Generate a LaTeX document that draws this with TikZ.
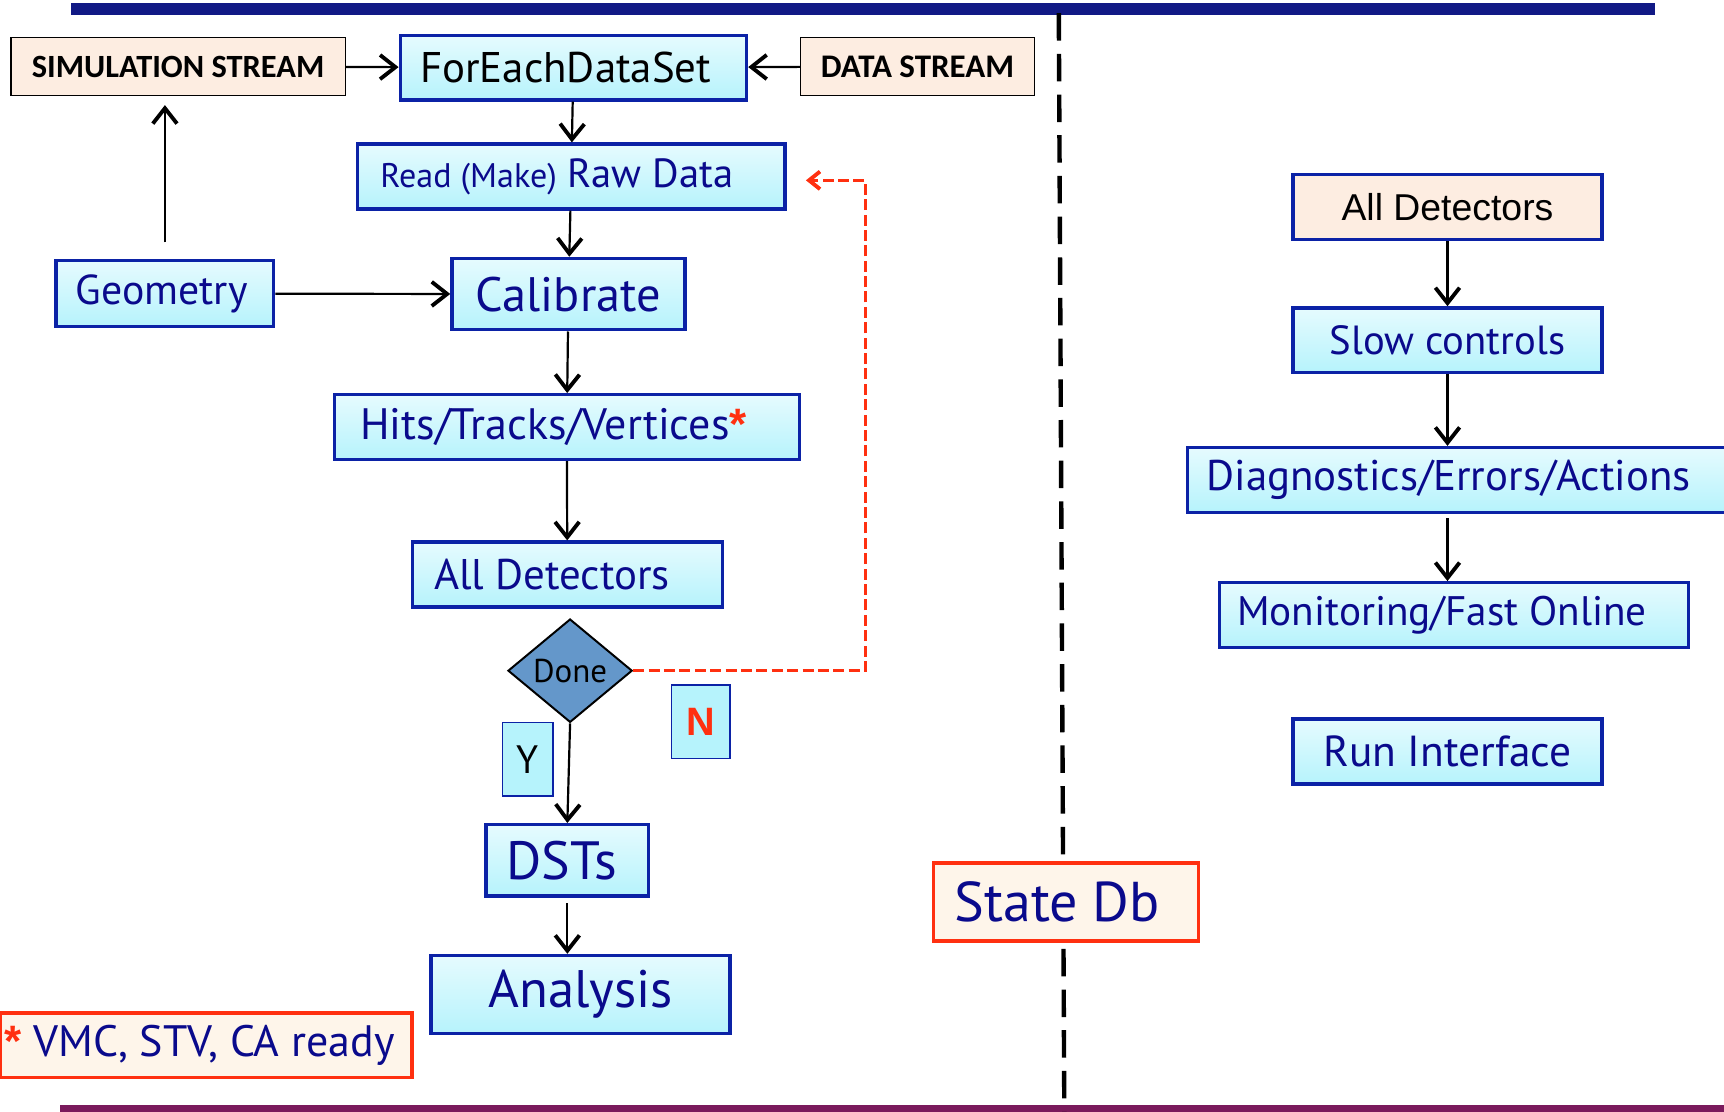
\documentclass[tikz,border=0pt]{standalone}
\usepackage{fontspec}
\setmainfont{PT Sans}
\newfontfamily\arialf{Liberation Sans}
\newfontfamily\calf{Carlito}
\usetikzlibrary{arrows.meta,shapes.geometric}
\definecolor{navyt}{HTML}{0A0A8C}
\definecolor{bordb}{HTML}{0B22A6}
\definecolor{cyanf}{HTML}{B6F3FC}
\definecolor{peach}{HTML}{FDEDE1}
\definecolor{cream}{HTML}{FEF5EA}
\definecolor{redb}{HTML}{FF3010}
\definecolor{diam}{HTML}{6497CA}
\definecolor{topbar}{HTML}{111985}
\definecolor{botbar}{HTML}{7A1A5C}
\newcommand\sh[2]{\hspace*{#1}#2\hspace*{-#1}}
\newcommand\redstar{\textcolor{redb}{\arialf\bfseries *}}
\tikzset{
  cbox/.style={draw=bordb, line width=3pt, top color=cyanf!35!white, middle color=cyanf, bottom color=cyanf, text=navyt, inner sep=0pt},
  pbox/.style={draw=black, line width=1.2pt, fill=peach, text=black, inner sep=0pt, font=\calf\bfseries\fontsize{29.5}{33}\selectfont},
  rbox/.style={draw=redb, line width=3.5pt, fill=cream, text=navyt, inner sep=0pt},
  lbox/.style={draw=bordb, line width=1.2pt, fill=cyanf, inner sep=0pt},
  arr/.style={draw=black, line width=2pt, -{Straight Barb[length=14pt,width=22pt,line width=3.5pt]}},
  rarr/.style={draw=redb, line width=3pt, dash pattern=on 10pt off 4pt, -{Straight Barb[length=10pt,width=16pt,line width=3.5pt]}},
  divider/.style={draw=black, line width=4pt, dash pattern=on 25pt off 12pt},
}
\begin{document}
\begin{tikzpicture}[x=1pt,y=-1pt]
\useasboundingbox (0,0) rectangle (1568,1011);
\clip (0,0) rectangle (1568,1011);
% bars
\fill[topbar] (65,3) rectangle (1505,14);
\fill[botbar] (55,1005) rectangle (1568,1012);
% divider
\coordinate (vt) at (963,12);
\coordinate (vb) at (968,1011);
\draw[divider] (vt) -- (vb);
% left column
\node[pbox, minimum width=304pt, minimum height=53pt] (sim) at (162,60.5) {SIMULATION STREAM};
\node[pbox, minimum width=213pt, minimum height=53pt, font=\calf\bfseries\fontsize{30}{34}\selectfont] (data) at (834.5,60.5) {DATA STREAM};
\node[cbox, text=black, minimum width=315pt, minimum height=59pt, font=\fontsize{39}{43}\selectfont] (fe) at (521.5,61.5) {\sh{-7pt}{ForEachDataSet}};
\node[cbox, minimum width=389pt, minimum height=59pt] (read) at (519.5,160.5) {\sh{-13pt}{{\fontsize{31}{35}\selectfont Read (Make)}\hspace{10pt}{\fontsize{37}{41}\selectfont Raw Data}}};
\node[cbox, minimum width=198pt, minimum height=60pt, font=\fontsize{38}{42}\selectfont] (geo) at (150,267) {\sh{-3pt}{Geometry}};
\node[cbox, minimum width=212pt, minimum height=65pt, font=\fontsize{44}{48}\selectfont] (cal) at (517,267.5) {Calibrate};
\node[cbox, minimum width=423pt, minimum height=59pt, font=\fontsize{40}{44}\selectfont] (hits) at (515.5,388.5) {\sh{-12pt}{Hits/Tracks/Vertices\redstar}};
\node[cbox, minimum width=282pt, minimum height=59pt, font=\fontsize{39}{43}\selectfont] (adl) at (516,522.5) {\sh{-14pt}{All Detectors}};
\node[diamond, draw=black, line width=1.8pt, fill=diam, minimum width=113pt, minimum height=94pt, inner sep=0pt, font=\fontsize{30}{34}\selectfont] (done) at (518.5,610) {Done};
\node[lbox, minimum width=46pt, minimum height=67pt, font=\fontsize{36}{40}\selectfont] (ybox) at (480,690.5) {Y};
\node[lbox, minimum width=53pt, minimum height=67pt, text=redb, font=\arialf\bfseries\fontsize{36}{40}\selectfont] (nbox) at (637.5,656.5) {N};
\node[cbox, minimum width=148pt, minimum height=65pt, font=\fontsize{49}{53}\selectfont] (dst) at (516,782.5) {\sh{-5pt}{DSTs}};
\node[cbox, minimum width=272pt, minimum height=71pt, font=\fontsize{48}{52}\selectfont] (ana) at (528,904.5) {Analysis};
\node[rbox, minimum width=375pt, minimum height=59pt, font=\fontsize{40}{44}\selectfont] (vmc) at (187.5,950.5) {\sh{-6pt}{\redstar\ VMC, STV, CA ready}};
\node[rbox, minimum width=241pt, minimum height=71pt, font=\fontsize{51}{55}\selectfont] (state) at (969.5,820.5) {\sh{-8pt}{State Db}};
% right column
\node[cbox, top color=peach, middle color=peach, bottom color=peach, text=black, minimum width=281pt, minimum height=59pt, font=\arialf\fontsize{34}{38}\selectfont] (adr) at (1316.5,188.5) {All Detectors};
\node[cbox, minimum width=281pt, minimum height=59pt, font=\fontsize{37}{41}\selectfont] (slow) at (1316.5,309.5) {Slow controls};
\node[cbox, minimum width=500pt, minimum height=59pt, font=\fontsize{39}{43}\selectfont] (diag) at (1330,436.5) {\sh{-12.5pt}{Diagnostics/Errors/Actions}};
\node[cbox, minimum width=427pt, minimum height=59pt, font=\fontsize{37.5}{41}\selectfont] (mon) at (1322.5,559.5) {\sh{-11pt}{Monitoring/Fast Online}};
\node[cbox, minimum width=281pt, minimum height=59pt, font=\fontsize{39.5}{43}\selectfont] (run) at (1316.5,683.5) {Run Interface};
% connectors
\draw[arr] (sim) -- (fe);
\draw[arr] (data) -- (fe);
\draw[arr] (fe) -- (read);
\draw[arr] (read) -- (cal);
\draw[arr] (geo) -- (cal);
\draw[arr, shorten >=8pt] ([yshift=15pt]geo.north) -- (geo.north |- sim.south);
\draw[arr] (cal) -- (hits);
\draw[arr] (hits) -- (adl);
\draw[arr] (done.south) -- (dst.north);
\draw[arr, shorten <=5pt] (dst.south) -- (dst.south |- ana.north);
\coordinate (tip) at (733,164);
\draw[rarr] (done.east) -| ([xshift=54pt]tip) -- (tip);
\draw[arr] (adr) -- (slow);
\draw[arr] (slow) -- (diag.north -| slow.south);
\draw[arr, shorten <=4pt] (diag.south -| slow.south) -- (mon.north -| slow.south);
\end{tikzpicture}
\end{document}
